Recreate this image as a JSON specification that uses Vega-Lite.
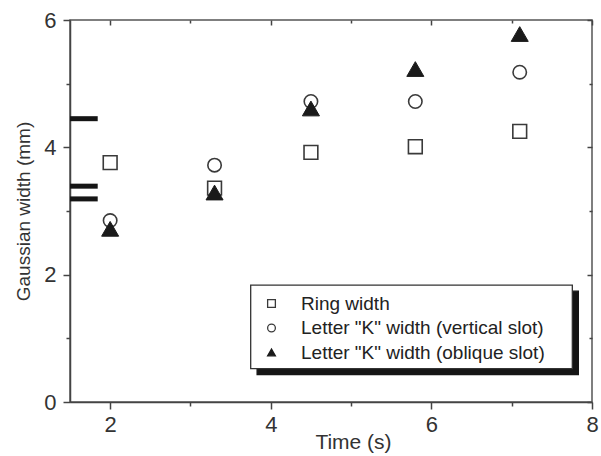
{
  "$schema": "https://vega.github.io/schema/vega-lite/v6.json",
  "width": 522,
  "height": 382,
  "autosize": "none",
  "padding": {"left": 70, "top": 20, "right": 9, "bottom": 54},
  "background": "white",
  "config": {
    "font": "Liberation Sans",
    "view": {"stroke": "#555", "strokeWidth": 1.5},
    "axis": {
      "labelFont": "Liberation Sans",
      "titleFont": "Liberation Sans",
      "labelColor": "#333",
      "titleColor": "#333",
      "domainColor": "#444",
      "domainWidth": 1.5,
      "tickColor": "#444",
      "tickWidth": 1.5,
      "gridColor": "#dcdcdc",
      "gridWidth": 1,
      "titleFontWeight": "normal"
    },
    "legend": {
      "title": null,
      "orient": "none",
      "legendX": 192,
      "legendY": 274,
      "padding": 0,
      "labelFontSize": 19,
      "labelFont": "Liberation Sans",
      "labelColor": "#222",
      "labelOffset": 20,
      "labelLimit": 400,
      "symbolSize": 60,
      "symbolStrokeWidth": 1.3,
      "rowPadding": 4.5
    }
  },
  "datasets": {
    "points": [
      {"series": "Ring width", "time": 2.0, "width": 3.76},
      {"series": "Ring width", "time": 3.3, "width": 3.36},
      {"series": "Ring width", "time": 4.5, "width": 3.92},
      {"series": "Ring width", "time": 5.8, "width": 4.01},
      {"series": "Ring width", "time": 7.1, "width": 4.25},
      {"series": "Letter \"K\" width (vertical slot)", "time": 2.0, "width": 2.85},
      {"series": "Letter \"K\" width (vertical slot)", "time": 3.3, "width": 3.72},
      {"series": "Letter \"K\" width (vertical slot)", "time": 4.5, "width": 4.72},
      {"series": "Letter \"K\" width (vertical slot)", "time": 5.8, "width": 4.72},
      {"series": "Letter \"K\" width (vertical slot)", "time": 7.1, "width": 5.18},
      {"series": "Letter \"K\" width (oblique slot)", "time": 2.0, "width": 2.72},
      {"series": "Letter \"K\" width (oblique slot)", "time": 3.3, "width": 3.29},
      {"series": "Letter \"K\" width (oblique slot)", "time": 4.5, "width": 4.61},
      {"series": "Letter \"K\" width (oblique slot)", "time": 5.8, "width": 5.23},
      {"series": "Letter \"K\" width (oblique slot)", "time": 7.1, "width": 5.78}
    ],
    "bars": [
      {"x1": 1.5, "x2": 1.845, "level": 4.45},
      {"x1": 1.5, "x2": 1.845, "level": 3.39},
      {"x1": 1.5, "x2": 1.845, "level": 3.19}
    ],
    "box": [
      {"part": "shadow", "bx1": 3.83, "bx2": 7.83, "by1": 0.43, "by2": 1.74},
      {"part": "box", "bx1": 3.75, "bx2": 7.755, "by1": 0.525, "by2": 1.835}
    ]
  },
  "layer": [
    {
      "data": {"name": "box"},
      "mark": {"type": "rect", "strokeWidth": 1.3},
      "encoding": {
        "x": {"field": "bx1", "type": "quantitative", "scale": {"domain": [1.5, 8], "nice": false, "zero": false}, "axis": null},
        "x2": {"field": "bx2"},
        "y": {"field": "by1", "type": "quantitative", "scale": {"domain": [0, 6], "nice": false}, "axis": null},
        "y2": {"field": "by2"},
        "fill": {"condition": {"test": "datum.part == 'shadow'", "value": "#151515"}, "value": "white"},
        "stroke": {"condition": {"test": "datum.part == 'shadow'", "value": "#151515"}, "value": "#333"}
      }
    },
    {
      "data": {"name": "bars"},
      "mark": {"type": "rule", "strokeWidth": 5, "color": "#151515"},
      "encoding": {
        "x": {"field": "x1", "type": "quantitative", "axis": {"orient": "top", "values": [2, 3, 4, 5, 6, 7, 8], "labels": false, "domain": false, "grid": false, "title": null, "tickSize": {"condition": {"test": "datum.value % 2 == 1", "value": -3}, "value": -5}}},
        "x2": {"field": "x2"},
        "y": {"field": "level", "type": "quantitative", "axis": {"orient": "right", "values": [0, 1, 2, 3, 4, 5, 6], "labels": false, "domain": false, "grid": false, "title": null, "tickSize": {"condition": {"test": "datum.value % 2 == 1", "value": -3}, "value": -5}}}
      }
    },
    {
      "data": {"name": "points"},
      "transform": [{"filter": "datum.series == 'Ring width'"}],
      "mark": {"type": "point", "strokeWidth": 1.6, "opacity": 1, "size": 190},
      "encoding": {
        "x": {
          "field": "time", "type": "quantitative",
          "axis": {
            "values": [2, 3, 4, 5, 6, 7, 8],
            "labelExpr": "datum.value % 2 == 0 ? datum.label : ''",
            "tickSize": {"condition": {"test": "datum.value % 2 == 1", "value": 4}, "value": 7},
            "gridOpacity": {"condition": {"test": "datum.value % 2 == 1", "value": 0}, "value": 1},
            "labelFontSize": 22,
            "labelPadding": 5,
            "labelFlush": false,
            "title": "Time (s)",
            "titleFontSize": 21,
            "titleX": 283,
            "titleY": 29
          }
        },
        "y": {
          "field": "width", "type": "quantitative",
          "axis": {
            "values": [0, 1, 2, 3, 4, 5, 6],
            "labelExpr": "datum.value % 2 == 0 ? datum.label : ''",
            "tickSize": {"condition": {"test": "datum.value % 2 == 1", "value": 4}, "value": 7},
            "gridOpacity": {"condition": {"test": "datum.value % 2 == 1", "value": 0}, "value": 1},
            "labelFontSize": 22,
            "labelPadding": 7,
            "labelFlush": false,
            "title": "Gaussian width (mm)",
            "titleFontSize": 19,
            "titlePadding": 10
          }
        },
        "shape": {
          "field": "series", "type": "nominal",
          "scale": {"domain": ["Ring width", "Letter \"K\" width (vertical slot)", "Letter \"K\" width (oblique slot)"], "range": ["square", "circle", "triangle-up"]}
        },
        "fill": {
          "field": "series", "type": "nominal",
          "scale": {"domain": ["Ring width", "Letter \"K\" width (vertical slot)", "Letter \"K\" width (oblique slot)"], "range": ["white", "white", "#1a1a1a"]}
        },
        "stroke": {
          "field": "series", "type": "nominal",
          "scale": {"domain": ["Ring width", "Letter \"K\" width (vertical slot)", "Letter \"K\" width (oblique slot)"], "range": ["#3a3a3a", "#3a3a3a", "#1a1a1a"]}
        }
      }
    },
    {
      "data": {"name": "points"},
      "transform": [{"filter": "datum.series == 'Letter \"K\" width (vertical slot)'"}],
      "mark": {"type": "point", "strokeWidth": 1.6, "opacity": 1, "size": 180},
      "encoding": {
        "x": {"field": "time", "type": "quantitative", "axis": null},
        "y": {"field": "width", "type": "quantitative", "axis": null},
        "shape": {"field": "series", "type": "nominal"},
        "fill": {"field": "series", "type": "nominal"},
        "stroke": {"field": "series", "type": "nominal"}
      }
    },
    {
      "data": {"name": "points"},
      "transform": [{"filter": "datum.series == 'Letter \"K\" width (oblique slot)'"}],
      "mark": {"type": "point", "strokeWidth": 1, "opacity": 1, "size": 290},
      "encoding": {
        "x": {"field": "time", "type": "quantitative", "axis": null},
        "y": {"field": "width", "type": "quantitative", "axis": null},
        "shape": {"field": "series", "type": "nominal"},
        "fill": {"field": "series", "type": "nominal"},
        "stroke": {"field": "series", "type": "nominal"}
      }
    }
  ],
  "resolve": {"axis": {"x": "independent", "y": "independent"}}
}
